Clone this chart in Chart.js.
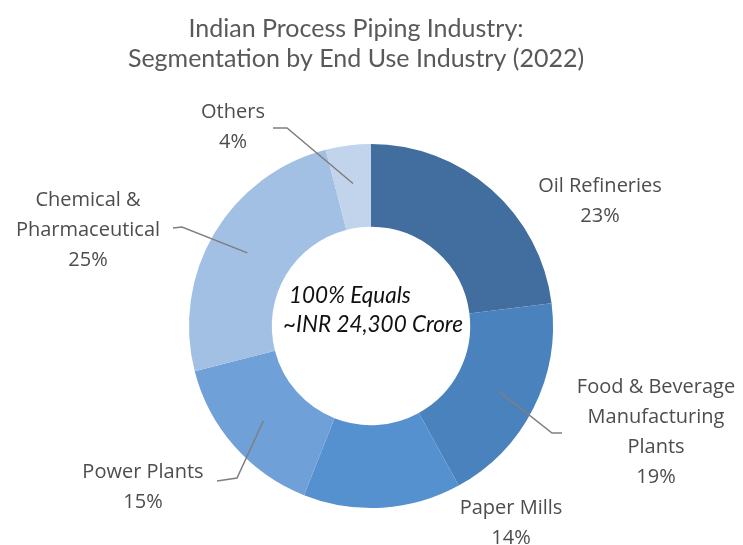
<!DOCTYPE html>
<html>
<head>
<meta charset="utf-8">
<script src="https://cdn.jsdelivr.net/npm/chart.js@4.4.1/dist/chart.umd.min.js"></script>
<style>
  html, body { margin: 0; padding: 0; background: #ffffff; }
  #wrap { width: 743px; height: 545px; position: relative; }
</style>
</head>
<body>
<div id="wrap"><canvas id="c" width="743" height="545"></canvas></div>
<script>
// ---- Data ----
const titleLines = ["Indian Process Piping Industry:", "Segmentation by End Use Industry (2022)"];
const categories = ["Oil Refineries", "Food & Beverage Manufacturing Plants", "Paper Mills", "Power Plants", "Chemical & Pharmaceutical", "Others"];
const labelLines = [["Oil Refineries"], ["Food & Beverage", "Manufacturing", "Plants"], ["Paper Mills"], ["Power Plants"], ["Chemical &", "Pharmaceutical"], ["Others"]];
const shares = [23, 19, 14, 15, 25, 4];
const centerText = ["100% Equals", "~INR 24,300 Crore"];

// ---- Styles / layout ----
const colors = ["#426e9f", "#4a82bd", "#5590cf", "#6fa0d8", "#a2c0e4", "#c2d4ec"];
const textColor = "#4d4d4d";
const lineColor = "#7f7f7f";
// label block center relative to chart center (dx, dy of first line), leader elbow + end relative to center
const labelLayout = [
  { dx: 229, dy: -140, leader: null },
  { dx: 285, dy: 61, leader: [[181, 107], [191, 107]] },
  { dx: 140, dy: 182, leader: null },
  { dx: -228, dy: 146, leader: [[-134, 152], [-154, 155]] },
  { dx: -283, dy: -126, leader: [[-189, -99], [-198, -98]] },
  { dx: -138, dy: -214, leader: [[-84, -198], [-98, -198]] }
];

const labelPlugin = {
  id: 'labels',
  afterDraw(chart) {
    const ctx = chart.ctx;
    const meta = chart.getDatasetMeta(0);
    const arc0 = meta.data[0];
    const cx = arc0.x, cy = arc0.y;
    ctx.save();
    // title
    ctx.fillStyle = "#595959";
    ctx.textAlign = 'center';
    ctx.textBaseline = 'middle';
    ctx.font = '25px Lato';
    titleLines.forEach((t, i) => ctx.fillText(t, cx - 15, 29 + i * 30));
    // labels + leaders
    ctx.font = '20px "Open Sans"';
    meta.data.forEach((arc, i) => {
      const p = arc.getProps(['x', 'y', 'startAngle', 'endAngle', 'innerRadius', 'outerRadius'], true);
      const mid = (p.startAngle + p.endAngle) / 2;
      const r = (p.innerRadius + p.outerRadius) / 2 + 3;
      const L = labelLayout[i];
      if (L.leader) {
        ctx.strokeStyle = lineColor;
        ctx.lineWidth = 1.5;
        ctx.beginPath();
        ctx.moveTo(p.x + Math.cos(mid) * r, p.y + Math.sin(mid) * r);
        L.leader.forEach(pt => ctx.lineTo(cx + pt[0], cy + pt[1]));
        ctx.stroke();
      }
      const lines = labelLines[i].concat([shares[i] + '%']);
      ctx.fillStyle = textColor;
      lines.forEach((t, k) => ctx.fillText(t, cx + L.dx, cy + L.dy + k * 30));
    });
    // center text
    ctx.fillStyle = '#111111';
    ctx.textAlign = 'left';
    ctx.font = 'italic 22.5px Lato';
    ctx.fillText(centerText[0], cx - 82, cy - 30);
    ctx.fillText(centerText[1], cx - 88, cy - 1);
    ctx.restore();
  }
};

new Chart(document.getElementById('c'), {
  type: 'doughnut',
  data: {
    labels: categories,
    datasets: [{
      data: shares,
      backgroundColor: colors,
      borderWidth: 0
    }]
  },
  options: {
    responsive: false,
    animation: false,
    cutout: '54.5%',
    rotation: 0,
    layout: { padding: { left: 189, right: 190, top: 144, bottom: 37 } },
    plugins: {
      legend: { display: false },
      tooltip: { enabled: false },
      title: { display: false }
    }
  },
  plugins: [labelPlugin]
});
</script>
</body>
</html>
